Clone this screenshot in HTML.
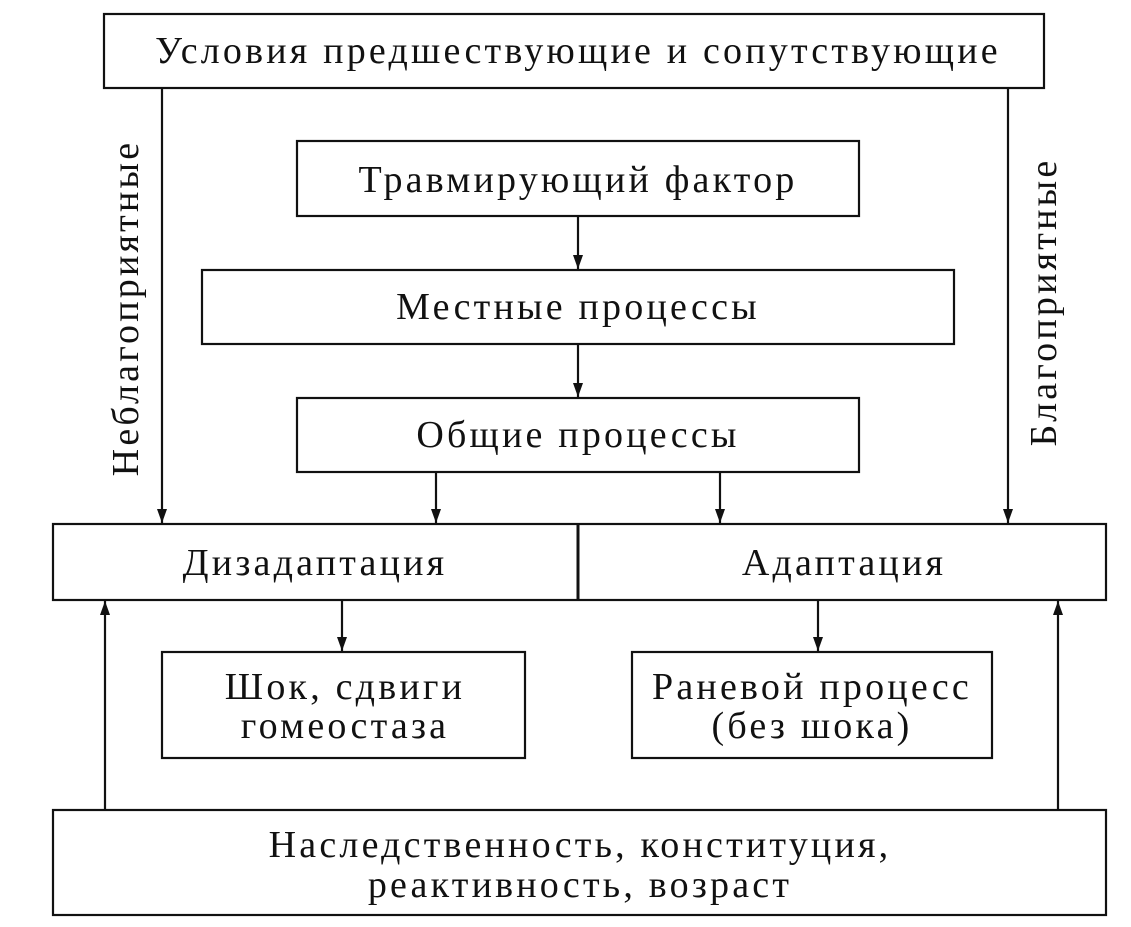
<!DOCTYPE html>
<html><head><meta charset="utf-8"><style>
html,body{margin:0;padding:0;background:#fff;}
svg{display:block}
text{font-family:"Liberation Serif","DejaVu Serif",serif;fill:#111;letter-spacing:3.2px;}
</style></head><body>
<svg width="1131" height="927" viewBox="0 0 1131 927" xmlns="http://www.w3.org/2000/svg">
<defs><marker id="a" markerWidth="16" markerHeight="12" refX="14" refY="5" orient="auto" markerUnits="userSpaceOnUse"><path d="M0,0 L14,5 L0,10 z" fill="#111"/></marker></defs>
<g fill="none" stroke="#111" stroke-width="2.2">
<rect x="104" y="14" width="940" height="74"/>
<rect x="297" y="141" width="562" height="75"/>
<rect x="202" y="270" width="752" height="74"/>
<rect x="297" y="398" width="562" height="74"/>
<rect x="53" y="524" width="1053" height="76"/>
<line x1="578" y1="524" x2="578" y2="600" stroke-width="3"/>
<rect x="162" y="652" width="363" height="106"/>
<rect x="632" y="652" width="360" height="106"/>
<rect x="53" y="810" width="1053" height="105"/>
</g>
<g stroke="#111" stroke-width="2.2">
<line x1="162" y1="88" x2="162" y2="523" marker-end="url(#a)"/>
<line x1="1008" y1="88" x2="1008" y2="523" marker-end="url(#a)"/>
<line x1="578" y1="216" x2="578" y2="269" marker-end="url(#a)"/>
<line x1="578" y1="344" x2="578" y2="397" marker-end="url(#a)"/>
<line x1="436" y1="472" x2="436" y2="523" marker-end="url(#a)"/>
<line x1="720" y1="472" x2="720" y2="523" marker-end="url(#a)"/>
<line x1="342" y1="600" x2="342" y2="651" marker-end="url(#a)"/>
<line x1="818" y1="600" x2="818" y2="651" marker-end="url(#a)"/>
<line x1="105" y1="810" x2="105" y2="601" marker-end="url(#a)"/>
<line x1="1058" y1="810" x2="1058" y2="601" marker-end="url(#a)"/>
</g>
<g font-size="38" text-anchor="middle">
<text x="578" y="63">Условия предшествующие и сопутствующие</text>
<text x="578" y="192">Травмирующий фактор</text>
<text x="578" y="319">Местные процессы</text>
<text x="578" y="447">Общие процессы</text>
<text x="315" y="575">Дизадаптация</text>
<text x="844" y="575">Адаптация</text>
<text x="345" y="699">Шок, сдвиги</text>
<text x="345" y="738">гомеостаза</text>
<text x="812" y="699">Раневой процесс</text>
<text x="812" y="738">(без шока)</text>
<text x="580" y="857">Наследственность, конституция,</text>
<text x="580" y="897">реактивность, возраст</text>
<text transform="translate(138,308) rotate(-90)">Неблагоприятные</text>
<text transform="translate(1056,302) rotate(-90)">Благоприятные</text>
</g>
</svg>
</body></html>
